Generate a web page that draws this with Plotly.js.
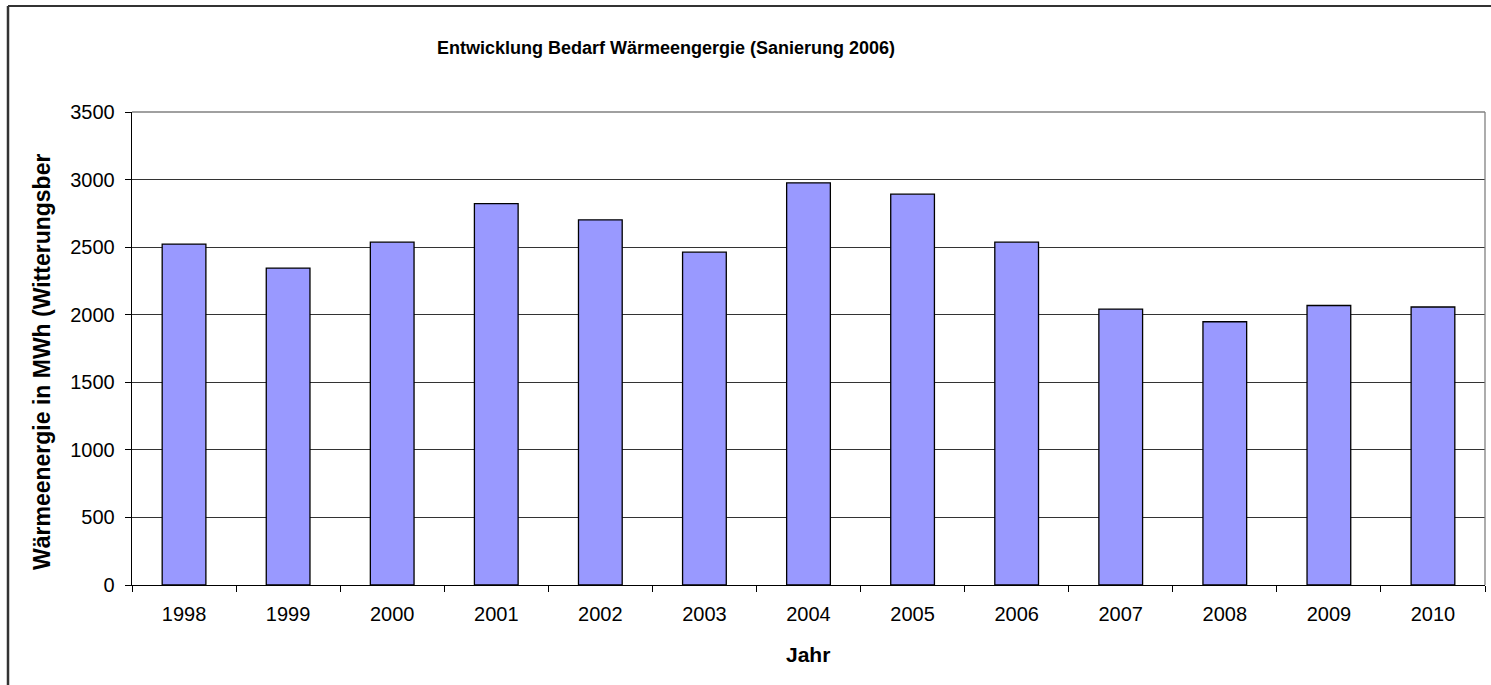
<!DOCTYPE html>
<html>
<head>
<meta charset="utf-8">
<script src="https://cdn.plot.ly/plotly-3.0.1.min.js"></script>
<style>
html,body{margin:0;padding:0;background:#fff;}
#chart{width:1491px;height:685px;}
</style>
</head>
<body>
<div id="chart"></div>
<script>
const years = ["1998","1999","2000","2001","2002","2003","2004","2005","2006","2007","2008","2009","2010"];
const demand = [2523, 2345, 2537, 2822, 2702, 2463, 2976, 2892, 2537, 2042, 1948, 2068, 2057];
const yTicks = [0, 500, 1000, 1500, 2000, 2500, 3000, 3500];

const chartTitle = "Entwicklung Bedarf Wärmeengergie (Sanierung 2006)";
const xTitle = "Jahr";
const yTitle = "Wärmeenergie in MWh (Witterungsber";

const FONT = "Liberation Sans, Arial, sans-serif";

const trace = {
  type: "bar",
  x: years,
  y: demand,
  marker: {color: "#9999FF", line: {color: "#000000", width: 1.3}},
  hoverinfo: "x+y"
};

const L = 132, R = 1485, T = 112, B = 585;
const pw = R - L, ph = B - T;
const px = v => (v - L) / pw;
const py = v => (B - v) / ph;

const layout = {
  width: 1491, height: 685,
  margin: {l: L, r: 1491 - R, t: T, b: 685 - B, pad: 0},
  paper_bgcolor: "#ffffff",
  plot_bgcolor: "#ffffff",
  showlegend: false,
  bargap: 0.58,
  font: {family: FONT, color: "#000000", size: 20},
  title: {
    text: "<b>" + chartTitle + "</b>",
    font: {family: FONT, size: 18, color: "#000000"},
    xref: "container", x: 666 / 1491, xanchor: "center",
    yref: "container", y: 1 - 48 / 685, yanchor: "middle"
  },
  xaxis: {
    type: "category",
    showgrid: false,
    showline: true, linecolor: "#000000", linewidth: 1.3,
    ticks: "outside", ticklen: 6, tickcolor: "#000000", tickwidth: 1,
    tickson: "boundaries",
    tickfont: {family: FONT, size: 20, color: "#000000"},
    ticklabelstandoff: 11,
    zeroline: false
  },
  yaxis: {
    range: [0, 3500],
    tickvals: yTicks,
    ticktext: yTicks.map(String),
    showgrid: true, gridcolor: "#333333", gridwidth: 1,
    showline: true, linecolor: "#000000", linewidth: 1.3,
    ticks: "outside", ticklen: 6, tickcolor: "#000000", tickwidth: 1,
    tickfont: {family: FONT, size: 20, color: "#000000"},
    ticklabelstandoff: 6,
    zeroline: false
  },
  annotations: [
    {
      text: "<b>" + xTitle + "</b>",
      xref: "paper", yref: "paper",
      x: px(808), y: py(654),
      xanchor: "center", yanchor: "middle",
      showarrow: false,
      font: {family: FONT, size: 21, color: "#000000"}
    },
    {
      text: "<b>" + yTitle + "</b>",
      xref: "paper", yref: "paper",
      x: px(42), y: py(362),
      xanchor: "center", yanchor: "middle",
      textangle: -90,
      showarrow: false,
      font: {family: FONT, size: 23, color: "#000000"}
    }
  ],
  shapes: [
    {type: "line", xref: "paper", yref: "paper", x0: 0, x1: 1, y0: 1, y1: 1,
     line: {color: "#808080", width: 1.3}},
    {type: "line", xref: "paper", yref: "paper", x0: 1, x1: 1, y0: 0, y1: 1,
     line: {color: "#808080", width: 1.3}},
    {type: "line", xref: "paper", yref: "paper", x0: px(8), x1: px(8), y0: py(6), y1: py(690),
     line: {color: "#333333", width: 2.5}},
    {type: "line", xref: "paper", yref: "paper", x0: px(8), x1: px(1495), y0: py(6), y1: py(6),
     line: {color: "#333333", width: 2}}
  ]
};

Plotly.newPlot("chart", [trace], layout, {displayModeBar: false, staticPlot: true});
</script>
</body>
</html>
